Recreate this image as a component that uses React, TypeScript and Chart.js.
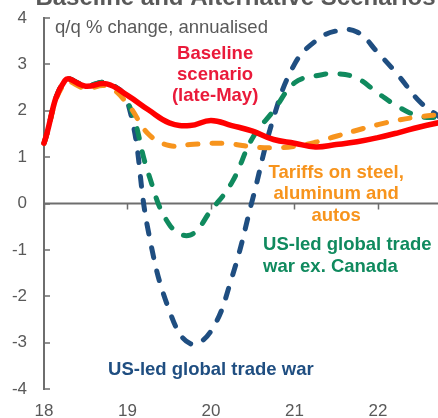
import React, { useEffect, useRef } from "react";
import { Chart, registerables } from "chart.js";

Chart.register(...registerables);

// ---- data ----
const quarters = [18.0, 18.25, 18.5, 18.75, 19.0, 19.25, 19.5, 19.75, 20.0, 20.25, 20.5, 20.75, 21.0, 21.25, 21.5, 21.75, 22.0, 22.25, 22.5, 22.75];
const baselineScenario = [1.3, 2.65, 2.53, 2.58, 2.33, 2.02, 1.74, 1.68, 1.79, 1.68, 1.56, 1.38, 1.3, 1.22, 1.27, 1.33, 1.42, 1.53, 1.65, 1.75];
const tariffsScenario = [1.3, 2.6, 2.48, 2.53, 2.15, 1.5, 1.25, 1.27, 1.3, 1.28, 1.22, 1.2, 1.23, 1.32, 1.45, 1.58, 1.7, 1.8, 1.87, 1.92];
const tradeWarExCanada = [1.3, 2.65, 2.54, 2.6, 2.2, 0.65, -0.45, -0.68, -0.15, 0.45, 1.42, 2.0, 2.6, 2.75, 2.8, 2.7, 2.38, 2.08, 1.88, 1.85];
const tradeWar = [1.3, 2.65, 2.54, 2.6, 2.2, -0.6, -2.3, -3.02, -2.75, -1.6, 0.1, 1.85, 3.0, 3.5, 3.72, 3.7, 3.25, 2.75, 2.2, 1.85];
const yearTicks = [18, 19, 20, 21, 22];
const yTicks = [-4, -3, -2, -1, 0, 1, 2, 3, 4];

const titleText = "Baseline and Alternative Scenarios";
const unitText = "q/q % change, annualised";
const baselineLabel = ["Baseline", "scenario", "(late-May)"];
const tariffsLabel = ["Tariffs on steel,", "aluminum and", "autos"];
const exCanadaLabel = ["US-led global trade", "war ex. Canada"];
const tradeWarLabel = ["US-led global trade war"];

// ---- styles ----
const FONT = "'Liberation Sans', Arial, sans-serif";
const GRAY = "#595959";
const AXIS = "#6e6e6e";
const RED = "#FF0000";
const RED_TEXT = "#EA1A3A";
const ORANGE = "#F7941D";
const GREEN = "#108A5E";
const BLUE = "#1F4E81";

type Ann = { lines: string[]; x: number; y: number; align: CanvasTextAlign; color: string; bold: boolean; size: number; lh: number };

const annotations: Ann[] = [
  { lines: [unitText], x: 18.132, y: 3.676, align: "left", color: GRAY, bold: false, size: 18.5, lh: 21 },
  { lines: baselineLabel, x: 20.05, y: 3.12, align: "center", color: RED_TEXT, bold: true, size: 18.5, lh: 21 },
  { lines: tariffsLabel, x: 21.5, y: 0.55, align: "center", color: ORANGE, bold: true, size: 18.5, lh: 21.5 },
  { lines: exCanadaLabel, x: 20.624, y: -1.0, align: "left", color: GREEN, bold: true, size: 18.5, lh: 21.7 },
  { lines: tradeWarLabel, x: 18.767, y: -3.7, align: "left", color: BLUE, bold: true, size: 18.5, lh: 21 },
];

const toXY = (vals: number[]) => quarters.map((q, i) => ({ x: q, y: vals[i] }));

const decor = {
  id: "decor",
  beforeDatasetsDraw(chart: any) {
    const { ctx, chartArea, scales } = chart;
    const xs = scales.x;
    const ys = scales.y;
    const y0 = ys.getPixelForValue(0);
    ctx.save();
    ctx.strokeStyle = AXIS;
    ctx.lineWidth = 2;
    ctx.beginPath();
    ctx.moveTo(chartArea.left, y0);
    ctx.lineTo(chartArea.right, y0);
    ctx.stroke();
    ctx.lineWidth = 1.5;
    ctx.beginPath();
    for (const t of yearTicks) {
      const px = Math.round(xs.getPixelForValue(t)) + 0.5;
      ctx.moveTo(px, y0);
      ctx.lineTo(px, y0 + 6);
    }
    for (const t of yTicks) {
      const py = Math.round(ys.getPixelForValue(t));
      ctx.moveTo(chartArea.left, py);
      ctx.lineTo(chartArea.left + 6, py);
    }
    ctx.stroke();
    ctx.restore();
  },
  afterDraw(chart: any) {
    const { ctx, scales } = chart;
    const xs = scales.x;
    const ys = scales.y;
    ctx.save();
    ctx.textBaseline = "alphabetic";
    // title (partly above the visible top edge)
    ctx.fillStyle = GRAY;
    ctx.font = `bold 24px ${FONT}`;
    ctx.textAlign = "center";
    ctx.fillText(titleText, 235.5, 5);
    for (const a of annotations) {
      ctx.fillStyle = a.color;
      ctx.font = `${a.bold ? "bold " : ""}${a.size}px ${FONT}`;
      ctx.textAlign = a.align;
      const px = xs.getPixelForValue(a.x);
      const py = ys.getPixelForValue(a.y);
      a.lines.forEach((l, i) => ctx.fillText(l, px, py + i * a.lh));
    }
    ctx.restore();
  },
};

export default function App() {
  const ref = useRef<HTMLCanvasElement>(null);
  useEffect(() => {
    if (!ref.current) return;
    const dashed = (label: string, vals: number[], color: string) => ({
      label,
      data: toXY(vals),
      borderColor: color,
      backgroundColor: color,
      borderWidth: 5,
      borderDash: [10, 14],
      borderCapStyle: "round" as const,
      tension: 0.42,
      pointRadius: 0,
      fill: false,
      clip: { left: 3, top: 8, right: 0, bottom: 8 },
    });
    const chart = new Chart(ref.current, {
      type: "line",
      data: {
        datasets: [
          {
            label: "Baseline scenario (late-May)",
            data: toXY(baselineScenario),
            borderColor: RED,
            backgroundColor: RED,
            borderWidth: 5.5,
            borderCapStyle: "round",
            tension: 0.42,
            pointRadius: 0,
            fill: false,
            clip: { left: 3, top: 8, right: 0, bottom: 8 },
          } as any,
          dashed("Tariffs on steel, aluminum and autos", tariffsScenario, ORANGE),
          dashed("US-led global trade war ex. Canada", tradeWarExCanada, GREEN),
          dashed("US-led global trade war", tradeWar, BLUE),
        ],
      },
      options: {
        responsive: false,
        animation: false,
        events: [],
        layout: { padding: { top: 18, left: 0, right: 0, bottom: 0 } },
        plugins: {
          legend: { display: false },
          title: { display: false },
          tooltip: { enabled: false },
        },
        scales: {
          x: {
            type: "linear",
            min: 18,
            max: 22.72,
            afterBuildTicks: (s: any) => {
              s.ticks = yearTicks.map((v) => ({ value: v }));
            },
            afterFit: (s: any) => {
              s.height = 29;
              s.paddingLeft = 0;
              s.paddingRight = 0;
            },
            ticks: {
              color: GRAY,
              font: { family: FONT, size: 17 },
              padding: 12,
              maxRotation: 0,
              autoSkip: false,
              callback: (v: any) => String(v),
            },
            grid: { display: false, drawTicks: false },
            border: { display: false },
          },
          y: {
            min: -4,
            max: 4,
            afterBuildTicks: (s: any) => {
              s.ticks = yTicks.map((v) => ({ value: v }));
            },
            afterFit: (s: any) => {
              s.width = 44;
              s.paddingTop = 0;
              s.paddingBottom = 0;
            },
            ticks: {
              color: GRAY,
              font: { family: FONT, size: 17 },
              padding: 17,
              callback: (v: any) => String(v),
            },
            grid: { display: true, drawOnChartArea: false, drawTicks: false },
            border: { display: true, color: AXIS, width: 2 },
          },
        },
      },
      plugins: [decor],
    });
    return () => chart.destroy();
  }, []);
  return (
    <div style={{ position: "absolute", left: 0, top: 0, width: 438, height: 418, background: "#fff" }}>
      <canvas ref={ref} width={438} height={418} style={{ display: "block" }} />
    </div>
  );
}
